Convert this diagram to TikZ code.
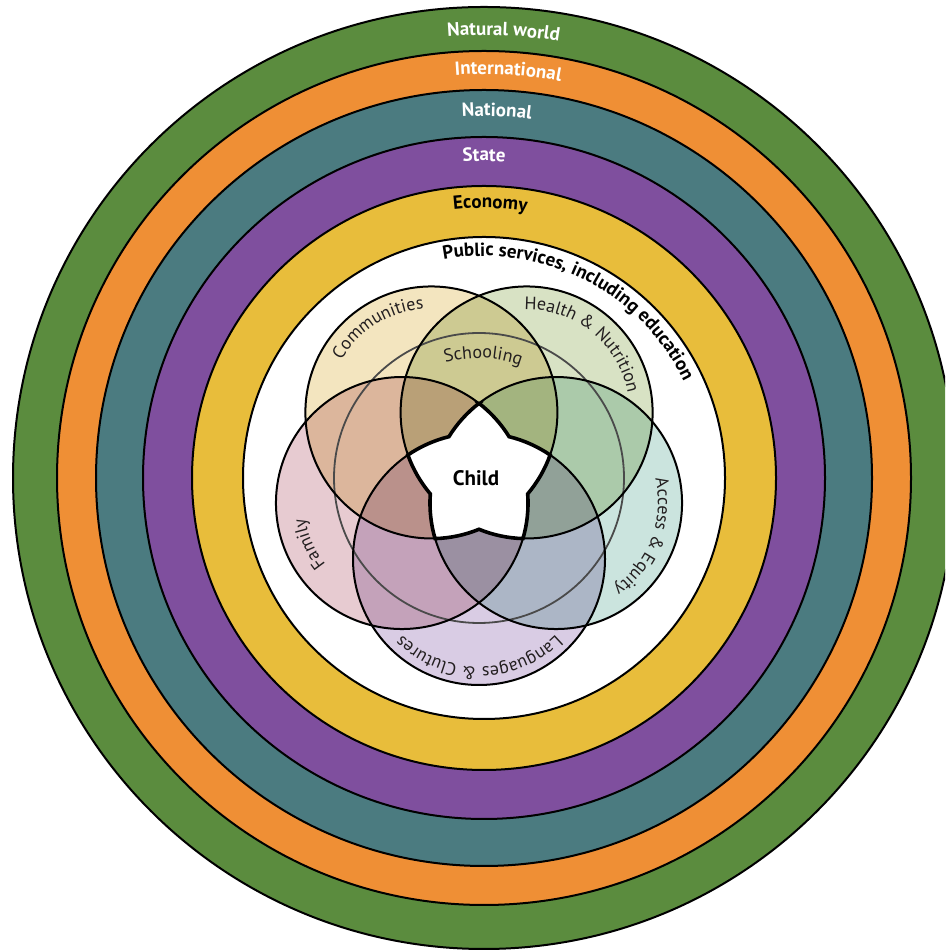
\documentclass[tikz,border=0pt]{standalone}
\usepackage{fontspec}
\setmainfont{PT Sans}
\usetikzlibrary{decorations.text}

\definecolor{ringgreen}{HTML}{5B8C3E}
\definecolor{ringorange}{HTML}{EF8F35}
\definecolor{ringteal}{HTML}{4B7B80}
\definecolor{ringpurple}{HTML}{7F4F9E}
\definecolor{ringyellow}{HTML}{E8BD3B}
\definecolor{fillcomm}{HTML}{F3E5BF}
\definecolor{fillhealth}{HTML}{D8E2C4}
\definecolor{fillaccess}{HTML}{CBE4DE}
\definecolor{filllang}{HTML}{D9CCE4}
\definecolor{fillfamily}{HTML}{E7CBD1}
\definecolor{labelink}{HTML}{231F20}
\definecolor{schoolline}{HTML}{4A4A4A}

\tikzset{
  ring/.style={draw=black, line width=2},
  venn/.style={draw=black, line width=2},
}

\newcommand\arclabel[6]{% center, radius, from, to, colour+font, text
  \path[shift={(#1)}, decorate, decoration={text along path, text align=center,
      text={|#5|#6}}] (#3:#2) arc[start angle=#3, end angle=#4, radius=#2];}

\begin{document}
\begin{tikzpicture}[x=1pt,y=1pt]
\useasboundingbox (0,0) rectangle (945,952);
\clip (0,0) rectangle (945,952);

\coordinate (R) at (484,474);
\coordinate (O) at (479,474);

% concentric rings
\fill[ringgreen, ring]  (R) circle[radius=471];
\fill[ringorange, ring] (R) circle[radius=427];
\fill[ringteal, ring]   (R) circle[radius=388];
\fill[ringpurple, ring] (R) circle[radius=341];
\fill[ringyellow, ring] (R) circle[radius=292];
\fill[white, ring]      (R) circle[radius=241];

% ring labels
\arclabel{R}{443}{117.5}{57.5}{\fontsize{19}{19}\selectfont\bfseries\color{white}}{Natural world}
\arclabel{R}{404}{116.6}{56.6}{\fontsize{19}{19}\selectfont\bfseries\color{white}}{International}
\arclabel{R}{362}{118}{58}{\fontsize{19}{19}\selectfont\bfseries\color{white}}{National}
\arclabel{R}{317}{120}{60}{\fontsize{19}{19}\selectfont\bfseries\color{white}}{State}
\arclabel{R}{270}{118.7}{58.7}{\fontsize{19}{19}\selectfont\bfseries\color{black}}{Economy}
\path[shift={(R)}, decorate, decoration={text along path, text align=left,
    text={|\fontsize{19}{19}\selectfont\bfseries\color{black}|Public services, including education}}]
  (100.5:222) arc[start angle=100.5, end angle=0, radius=222];

% circle centres of the five overlapping domains
\path (O) ++(126:81) coordinate (cComm);
\path (O) ++(54:81)  coordinate (cHealth);
\path (O) ++(-18:81) coordinate (cAccess);
\path (O) ++(-90:81) coordinate (cLang);
\path (O) ++(198:81) coordinate (cFamily);

\begin{scope}[blend group=multiply]
  \fill[fillcomm]   (cComm)   circle[radius=126];
  \fill[fillhealth] (cHealth) circle[radius=126];
  \fill[fillaccess] (cAccess) circle[radius=126];
  \fill[filllang]   (cLang)   circle[radius=126];
  \fill[fillfamily] (cFamily) circle[radius=126];
\end{scope}

\draw[schoolline, line width=1.8] (O) circle[radius=145];
\foreach \c in {cComm,cHealth,cAccess,cLang,cFamily}
  \draw[venn] (\c) circle[radius=126];

% the child: region shared by four or more domains
\filldraw[fill=white, draw=black, line width=3.6, line join=miter]
  ([shift={(90:74.67)}]O)
  arc[start angle=52.31,   end angle=31.77,   radius=126]
  arc[start angle=76.23,   end angle=55.69,   radius=126]
  arc[start angle=-19.69,  end angle=-40.23,  radius=126]
  arc[start angle=4.23,    end angle=-16.31,  radius=126]
  arc[start angle=-91.69,  end angle=-112.23, radius=126]
  arc[start angle=-67.77,  end angle=-88.31,  radius=126]
  arc[start angle=-163.69, end angle=-184.23, radius=126]
  arc[start angle=-139.77, end angle=-160.31, radius=126]
  arc[start angle=-235.69, end angle=-256.23, radius=126]
  arc[start angle=-211.77, end angle=-232.31, radius=126]
  -- cycle;
\node[font=\fontsize{21}{21}\selectfont\bfseries, text=black] (child) at (476,474) {Child};

% domain labels
\arclabel{cComm}{104}{152}{92}{\fontsize{18}{18}\selectfont\color{labelink}}{Communities}
\arclabel{cHealth}{103}{96}{6}{\fontsize{18}{18}\selectfont\color{labelink}}{Health {\&} Nutrition}
\arclabel{cAccess}{102}{20}{-62}{\fontsize{18}{18}\selectfont\color{labelink}}{Access {\&} Equity}
\arclabel{cLang}{108}{-40}{-140}{\fontsize{18}{18}\selectfont\color{labelink}}{Languages {\&} Clutures}
\arclabel{cFamily}{98}{234}{174}{\fontsize{18}{18}\selectfont\color{labelink}}{Family}
\arclabel{O}{120}{118}{58}{\fontsize{18}{18}\selectfont\color{labelink}}{Schooling}
\end{tikzpicture}
\end{document}
